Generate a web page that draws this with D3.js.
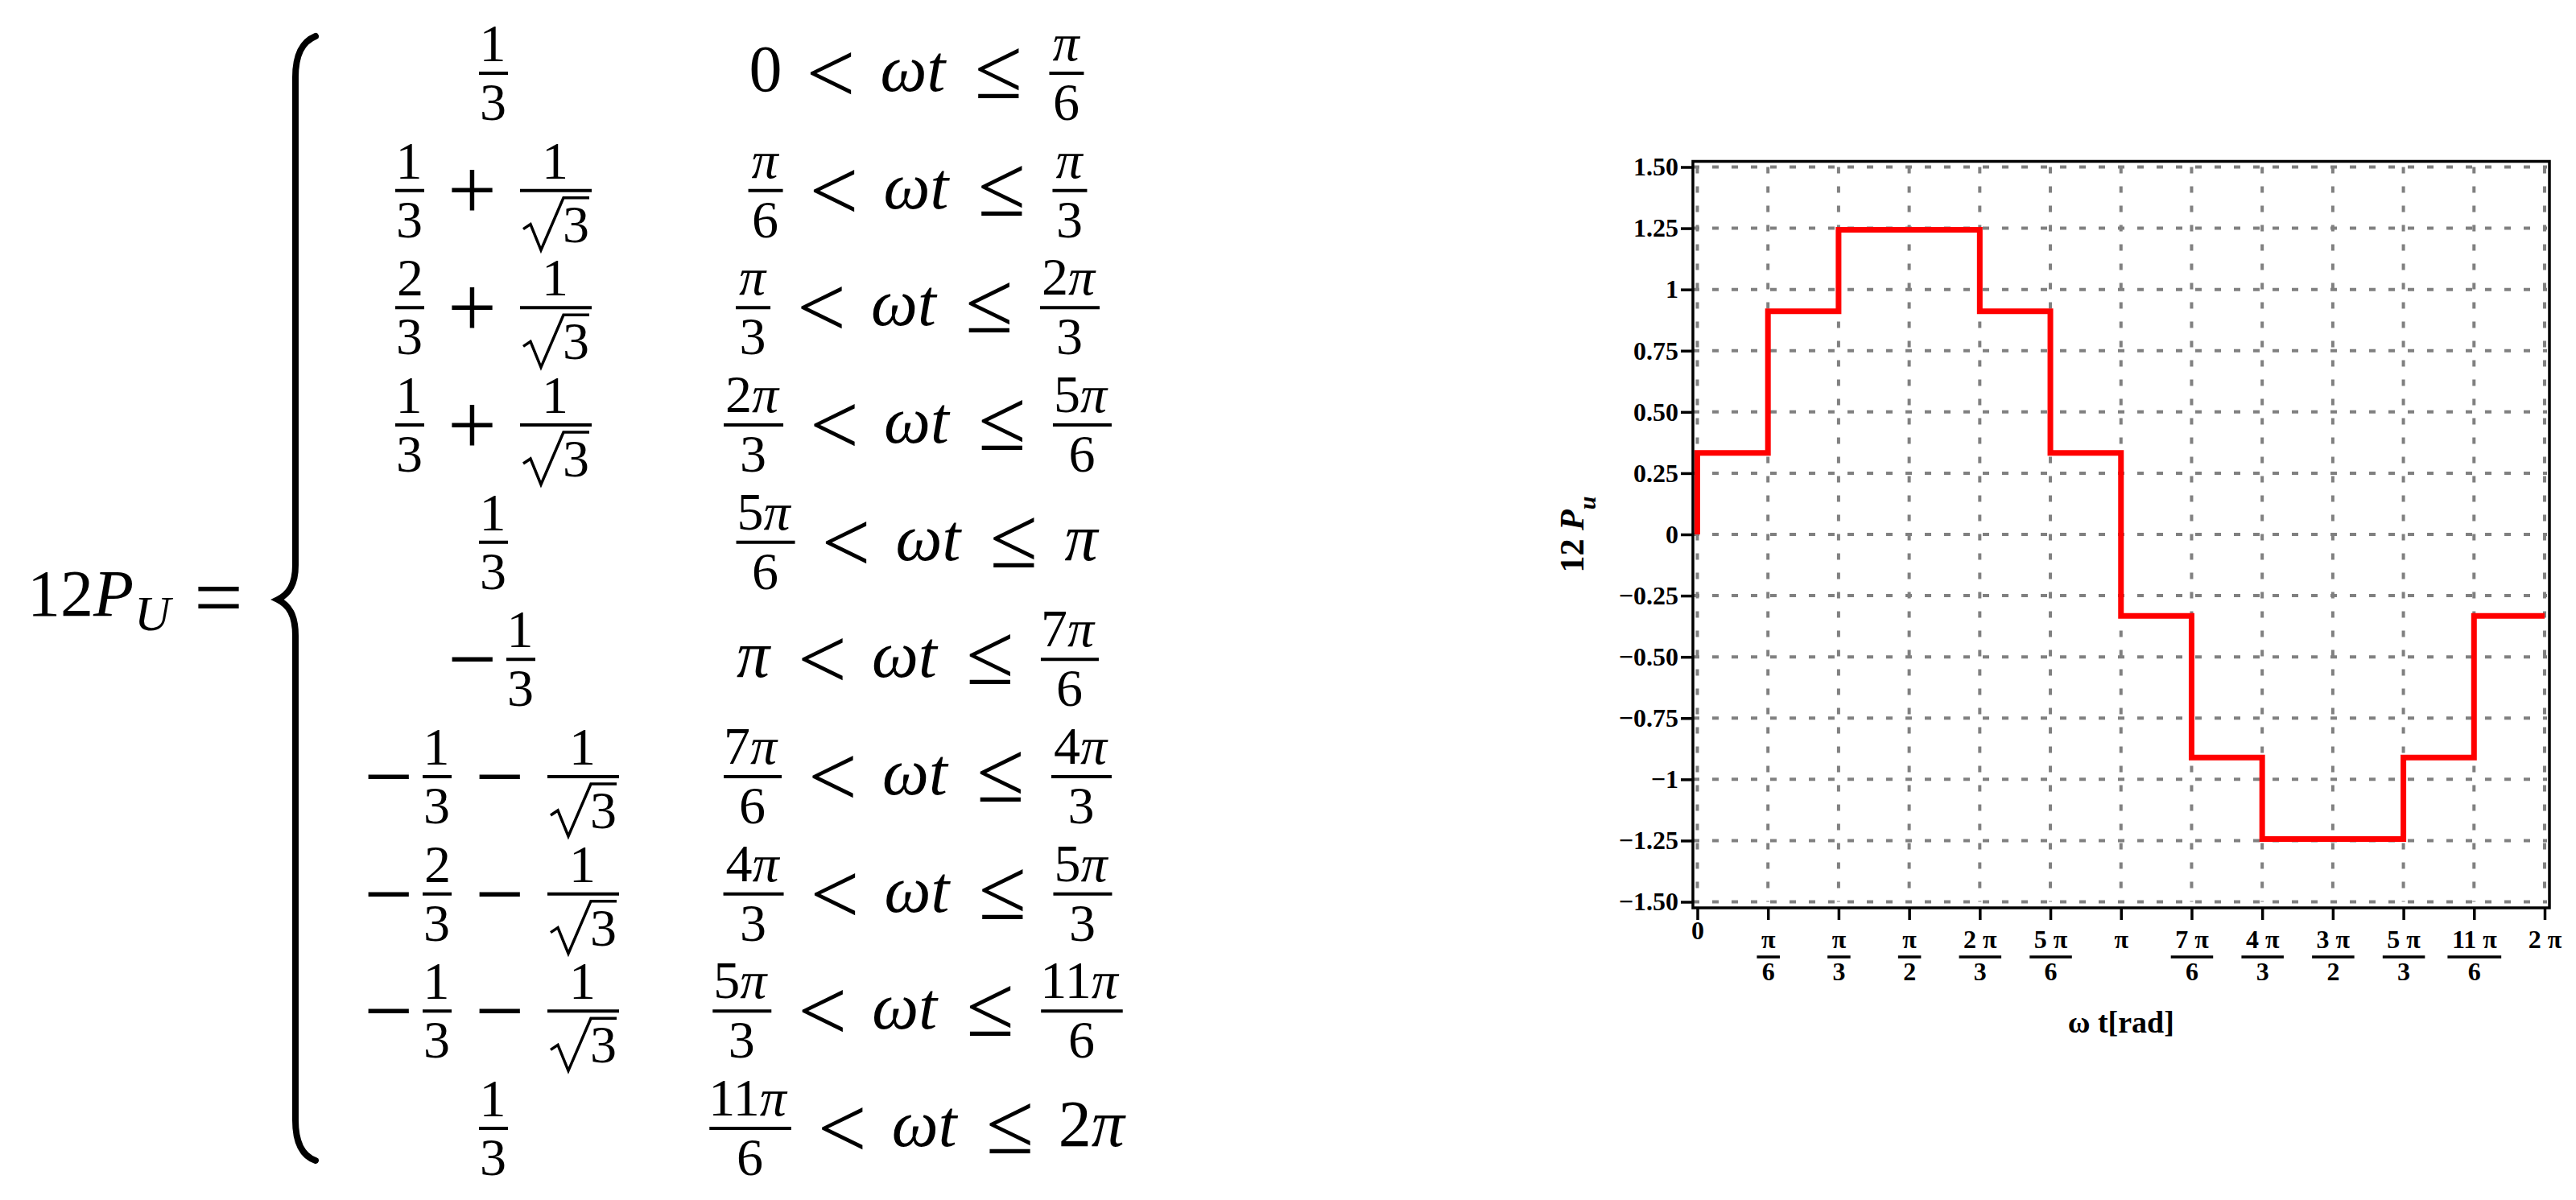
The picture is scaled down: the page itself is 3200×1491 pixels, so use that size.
<!DOCTYPE html>
<html>
<head>
<meta charset="utf-8">
<script src="https://cdn.jsdelivr.net/npm/d3@7"></script>
<style>
  body { margin: 0; background: #fff; }
</style>
</head>
<body>
<script>
// ---- chart data (x in units of pi) ----
const stepEdges = [0, 1/6, 1/3, 2/3, 5/6, 1, 7/6, 4/3, 5/3, 11/6, 2];
const stepValues = [0.333, 0.911, 1.244, 0.911, 0.333, -0.333, -0.911, -1.244, -0.911, -0.333];
const startValue = 0;

const yTicks = [1.5, 1.25, 1, 0.75, 0.5, 0.25, 0, -0.25, -0.5, -0.75, -1, -1.25, -1.5];
const yTickLabels = ['1.50', '1.25', '1', '0.75', '0.50', '0.25', '0', '−0.25', '−0.50', '−0.75', '−1', '−1.25', '−1.50'];
const xTicks = [0, 1/6, 1/3, 1/2, 2/3, 5/6, 1, 7/6, 4/3, 3/2, 5/3, 11/6, 2];
const xTickNum = ['0', 'π', 'π', 'π', '2 π', '5 π', 'π', '7 π', '4 π', '3 π', '5 π', '11 π', '2 π'];
const xTickDen = ['', '6', '3', '2', '3', '6', '', '6', '3', '2', '3', '6', ''];

// ---- formula (piecewise definition) ----
const caseValues = ['1/3', '1/3 + 1/√3', '2/3 + 1/√3', '1/3 + 1/√3', '1/3',
  '− 1/3', '− 1/3 − 1/√3', '− 2/3 − 1/√3', '− 1/3 − 1/√3', '1/3'];
const caseLower = ['0', 'π/6', 'π/3', '2π/3', '5π/6', 'π', '7π/6', '4π/3', '5π/3', '11π/6'];
const caseUpper = ['π/6', 'π/3', '2π/3', '5π/6', 'π', '7π/6', '4π/3', '5π/3', '11π/6', '2π'];

const width = 3200;
const height = 1491;
const SERIF = '"Liberation Serif", "Times New Roman", serif';

const svg = d3.select('body')
  .append('svg')
  .attr('width', width)
  .attr('height', height)
  .style('display', 'block');

svg.append('rect').attr('width', width).attr('height', height).attr('fill', '#fff');

// ================= step chart =================
const x = d3.scaleLinear().domain([0, 2]).range([2108.5, 3161]);
const y = d3.scaleLinear().domain([-1.5, 1.5]).range([1120.5, 207.5]);

const fx0 = x.range()[0] - 5.5;
const fx1 = x.range()[1] + 6;
const fy0 = y.range()[1] - 7;
const fy1 = y.range()[0] + 7.5;

const plot = svg.append('g');

// dashed grid
plot.append('g')
  .selectAll('line')
  .data(xTicks)
  .join('line')
  .attr('x1', d => x(d))
  .attr('x2', d => x(d))
  .attr('y1', y(1.5))
  .attr('y2', y(-1.5))
  .attr('stroke', '#808080')
  .attr('stroke-width', 4)
  .attr('stroke-dasharray', '8 16');

plot.append('g')
  .selectAll('line')
  .data(yTicks)
  .join('line')
  .attr('x1', fx0)
  .attr('x2', x(2) + 3)
  .attr('y1', d => y(d))
  .attr('y2', d => y(d))
  .attr('stroke', '#808080')
  .attr('stroke-width', 4)
  .attr('stroke-dasharray', '8 16');

// step line
const pts = [[0, startValue]].concat(stepValues.map((v, i) => [stepEdges[i], v]));
pts.push([stepEdges[stepEdges.length - 1], stepValues[stepValues.length - 1]]);

const line = d3.line()
  .x(d => x(d[0]))
  .y(d => y(d[1]))
  .curve(d3.curveStepAfter);

plot.append('path')
  .attr('d', line(pts))
  .attr('fill', 'none')
  .attr('stroke', '#ff0000')
  .attr('stroke-width', 7)
  .attr('stroke-linejoin', 'miter');

// frame
plot.append('rect')
  .attr('x', fx0)
  .attr('y', fy0)
  .attr('width', fx1 - fx0)
  .attr('height', fy1 - fy0)
  .attr('fill', 'none')
  .attr('stroke', '#000')
  .attr('stroke-width', 3.5);

// y axis
const yLabel = new Map(yTicks.map((t, i) => [t, yTickLabels[i]]));
plot.append('g')
  .attr('transform', `translate(${fx0},0)`)
  .call(d3.axisLeft(y).tickValues(yTicks).tickSize(15).tickPadding(3).tickFormat(d => yLabel.get(d)))
  .call(g => g.select('.domain').remove())
  .call(g => g.selectAll('.tick line').attr('stroke', '#000').attr('stroke-width', 3.5))
  .call(g => g.selectAll('.tick text')
    .attr('font-family', SERIF)
    .attr('font-size', 32)
    .attr('font-weight', 'bold')
    .attr('fill', '#000'));

// x axis with fraction labels
const gx = plot.append('g')
  .attr('transform', `translate(0,${fy1})`)
  .call(d3.axisBottom(x).tickValues(xTicks).tickSize(15).tickFormat(''));
gx.select('.domain').remove();
gx.selectAll('.tick line').attr('stroke', '#000').attr('stroke-width', 3.5);
gx.selectAll('.tick text').remove();

gx.selectAll('.tick').each(function (d, i) {
  const g = d3.select(this);
  const num = xTickNum[i];
  const den = xTickDen[i];
  const t = g.append('text')
    .attr('text-anchor', 'middle')
    .attr('font-family', SERIF)
    .attr('font-size', 32)
    .attr('font-weight', 'bold')
    .attr('fill', '#000');
  const tn = t.append('tspan')
    .attr('x', 0)
    .attr('y', num === '0' ? 39 : 50)
    .text(num);
  if (den) {
    const w = tn.node().getComputedTextLength() + 11;
    t.append('tspan').attr('x', 0).attr('y', 90).text(den);
    g.append('line')
      .attr('x1', -w / 2).attr('x2', w / 2)
      .attr('y1', 61).attr('y2', 61)
      .attr('stroke', '#000').attr('stroke-width', 3.5);
  }
});

// axis titles
svg.append('text')
  .attr('transform', 'translate(1967,664) rotate(-90)')
  .attr('text-anchor', 'middle')
  .attr('font-family', SERIF)
  .attr('font-size', 42)
  .attr('font-weight', 'bold')
  .call(t => {
    t.append('tspan').text('12 ');
    t.append('tspan').attr('font-style', 'italic').text('P');
    t.append('tspan').attr('font-style', 'italic').attr('font-size', 30).attr('dy', 15).text('u');
  });

svg.append('text')
  .attr('x', (x(0) + x(2)) / 2)
  .attr('y', 1283)
  .attr('text-anchor', 'middle')
  .attr('font-family', SERIF)
  .attr('font-size', 38)
  .attr('font-weight', 'bold')
  .text('ω t[rad]');

// ================= formula =================
const ctx = document.createElement('canvas').getContext('2d');
function metrics(str, size, italic) {
  ctx.font = `${italic ? 'italic ' : ''}${size}px "Liberation Serif"`;
  const m = ctx.measureText(str);
  return {
    adv: m.width,
    l: -m.actualBoundingBoxLeft,
    r: m.actualBoundingBoxRight,
    asc: m.actualBoundingBoxAscent,
    desc: m.actualBoundingBoxDescent,
  };
}

// split a string into upright / italic runs
function runsOf(str) {
  const out = [];
  for (const ch of str) {
    const it = /[πωtPU]/.test(ch);
    if (out.length && out[out.length - 1].it === it) out[out.length - 1].s += ch;
    else out.push({ s: ch, it });
  }
  return out;
}

function measureRuns(str, size) {
  let o = 0, inkL = Infinity, inkR = -Infinity, asc = 0, desc = 0;
  const runs = runsOf(str).map(r => {
    const m = metrics(r.s, size, r.it);
    const run = { ...r, o };
    inkL = Math.min(inkL, o + m.l);
    inkR = Math.max(inkR, o + m.r);
    asc = Math.max(asc, m.asc);
    desc = Math.max(desc, m.desc);
    o += m.adv;
    return run;
  });
  return { runs, inkL, inkR, w: inkR - inkL, adv: o, asc, desc };
}

// add runs as tspans of an existing text element
function addRuns(t, mr, size, inkX, baseline) {
  mr.runs.forEach(r => {
    t.append('tspan')
      .attr('x', inkX - mr.inkL + r.o)
      .attr('y', baseline)
      .attr('font-size', size)
      .attr('font-style', r.it ? 'italic' : null)
      .text(r.s);
  });
}

function newText(g) {
  return g.append('text').attr('font-family', SERIF);
}

const F = 82;    // main math size
const FR = 66;   // fraction size
const OPS = 108; // relation / operator size

function opItem(sym) {
  const m = metrics(sym, OPS, false);
  return {
    w: m.r - m.l,
    draw(g, x0, ax) {
      newText(g)
        .attr('font-size', OPS)
        .attr('x', x0 - m.l)
        .attr('y', ax + (m.asc - m.desc) / 2)
        .text(sym);
    },
  };
}

function textItem(str) {
  const mr = measureRuns(str, F);
  return {
    w: mr.w,
    draw(g, x0, ax) { addRuns(newText(g), mr, F, x0, ax + 22); },
  };
}

function fracItem(num, den) {
  const mn = measureRuns(num, FR);
  const sq = den.startsWith('√');
  const md = measureRuns(sq ? den.slice(1) : den, FR);
  const radW = 50;
  const dw = sq ? radW + md.w + 3 : md.w;
  const w = Math.max(mn.w, dw) + 8;
  return {
    w,
    draw(g, x0, ax) {
      g.append('line')
        .attr('x1', x0).attr('x2', x0 + w)
        .attr('y1', ax).attr('y2', ax)
        .attr('stroke', '#000').attr('stroke-width', 4);
      const tn = newText(g);
      addRuns(tn, mn, FR, x0 + (w - mn.w) / 2, ax - 15 - mn.desc);
      const td = newText(g);
      if (!sq) {
        addRuns(td, md, FR, x0 + (w - md.w) / 2, ax + 15 + md.asc);
      } else {
        const dx = x0 + (w - dw) / 2;
        const p = d3.path();
        p.moveTo(dx, ax + 48);
        p.lineTo(dx + 9, ax + 42);
        p.lineTo(dx + 22, ax + 74);
        p.lineTo(dx + radW, ax + 9);
        p.lineTo(dx + dw + 1, ax + 9);
        g.append('path')
          .attr('d', p.toString())
          .attr('fill', 'none')
          .attr('stroke', '#000')
          .attr('stroke-width', 3.5)
          .attr('stroke-linejoin', 'miter');
        addRuns(td, md, FR, dx + radW + 2, ax + 64);
      }
    },
  };
}

function boundItem(s) {
  if (s.includes('/')) {
    const [n, d] = s.split('/');
    return fracItem(n, d);
  }
  return textItem(s);
}

function layoutRow(g, items, gaps, cx, ax) {
  const total = d3.sum(items, d => d.w) + d3.sum(gaps);
  let xx = cx - total / 2;
  items.forEach((it, i) => {
    it.draw(g, xx, ax);
    xx += it.w + (gaps[i] || 0);
  });
}

const rowY = d3.scalePoint().domain(d3.range(caseValues.length)).range([91, 1402]);
const formula = svg.append('g').attr('fill', '#000');

caseValues.forEach((expr, i) => {
  const ax = rowY(i);
  const toks = expr.split(' ');
  const items = [];
  const gaps = [];
  toks.forEach((tk, k) => {
    if (tk === '+' || tk === '−') {
      items.push(opItem(tk));
      gaps.push(k === 0 ? 17 : 34);
    } else {
      const [n, d] = tk.split('/');
      items.push(fracItem(n, d));
      gaps.push(34);
    }
  });
  gaps[gaps.length - 1] = 0;
  layoutRow(formula, items, gaps, 613, ax);

  const right = [boundItem(caseLower[i]), opItem('<'), textItem('ωt'), opItem('≤'), boundItem(caseUpper[i])];
  layoutRow(formula, right, [38, 38, 38, 38, 0], 1140, ax);
});

// left-hand side "12P_U ="
const lhsAxis = 742;
const lhs = measureRuns('12P', F);
const sub = measureRuns('U', 62);
addRuns(newText(formula), lhs, F, 41, lhsAxis + 23);
// subscript starts where the P advance ends
const subX = 41 - lhs.inkL + lhs.adv + sub.inkL + 1;
addRuns(newText(formula), sub, 62, subX, lhsAxis + 41);
opItem('=').draw(formula, 246, lhsAxis);

// big left brace
const bp = d3.path();
bp.moveTo(392, 45);
bp.bezierCurveTo(375, 52, 367, 68, 367, 96);
bp.lineTo(367, 702);
bp.bezierCurveTo(367, 726, 359, 738, 345, 745);
bp.bezierCurveTo(359, 752, 367, 764, 367, 790);
bp.lineTo(367, 1392);
bp.bezierCurveTo(367, 1420, 375, 1436, 392, 1442);
formula.append('path')
  .attr('d', bp.toString())
  .attr('fill', 'none')
  .attr('stroke', '#000')
  .attr('stroke-width', 8)
  .attr('stroke-linecap', 'round');
</script>
</body>
</html>
